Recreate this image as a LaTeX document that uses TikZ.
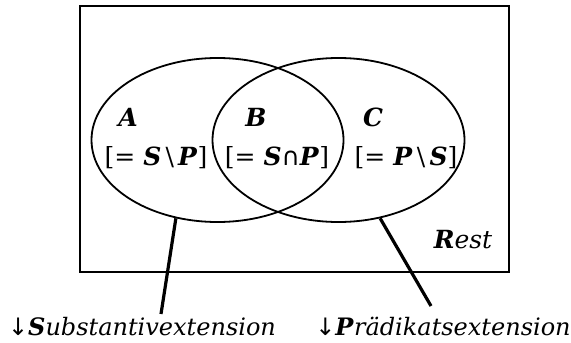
\documentclass[tikz,border=0pt]{standalone}
\usepackage{fontspec}
\setmainfont{DejaVu Serif}
\newfontfamily\symfont{DejaVu Sans}
\usetikzlibrary{shapes.geometric}
\newcommand{\bi}[1]{\textbf{\textit{#1}}}

\begin{document}
\begin{tikzpicture}[x=0.5pt, y=-0.5pt,
    set/.style={ellipse, draw, line width=0.9pt, minimum width=126pt,
                minimum height=82pt, inner sep=0pt},
    lbl/.style={font=\fontsize{12.5}{14}\selectfont, inner sep=0pt},
    note/.style={font=\fontsize{12}{14}\selectfont, inner sep=0pt},
    pointer/.style={line width=1.6pt}
]
    \useasboundingbox (0,0) rectangle (571,342);
    \node[draw, line width=1.3pt, minimum width=214.5pt, minimum height=133pt,
          inner sep=0pt] (universe) at (294.5,139) {};

    \node[set] (setS) at (217.5,140) {};
    \node[set] (setP) at (338.5,140) {};

    \node[lbl] (regA) at (128,117) {\bi{A}};
    \node[lbl] (regB) at (256,117) {\bi{B}};
    \node[lbl] (regC) at (373,117) {\bi{C}};
    \node[lbl] (defA) at (156,158) {[= \bi{S}\,\textbackslash\,\bi{P}]};
    \node[lbl] (defB) at (277,158) {[= \bi{S}{\symfont ∩}\bi{P}]};
    \node[lbl] (defC) at (406,158) {[= \bi{P}\,\textbackslash\,\bi{S}]};
    \node[lbl] (rest) at (463,240) {\bi{R}\textit{est}};

    \node[note, anchor=base] (subst) at (142,335)
        {{\symfont ↓}\bi{S}\textit{ubstantivextension}};
    \node[note, anchor=base] (praed) at (443,335)
        {{\symfont ↓}\bi{P}\textit{rädikatsextension}};

    \coordinate (substEnd) at (161,314);
    \coordinate (praedEnd) at (431,306);
    \draw[pointer] (setS.242) -- (substEnd);
    \draw[pointer] (setP.298) -- (praedEnd);
\end{tikzpicture}
\end{document}
